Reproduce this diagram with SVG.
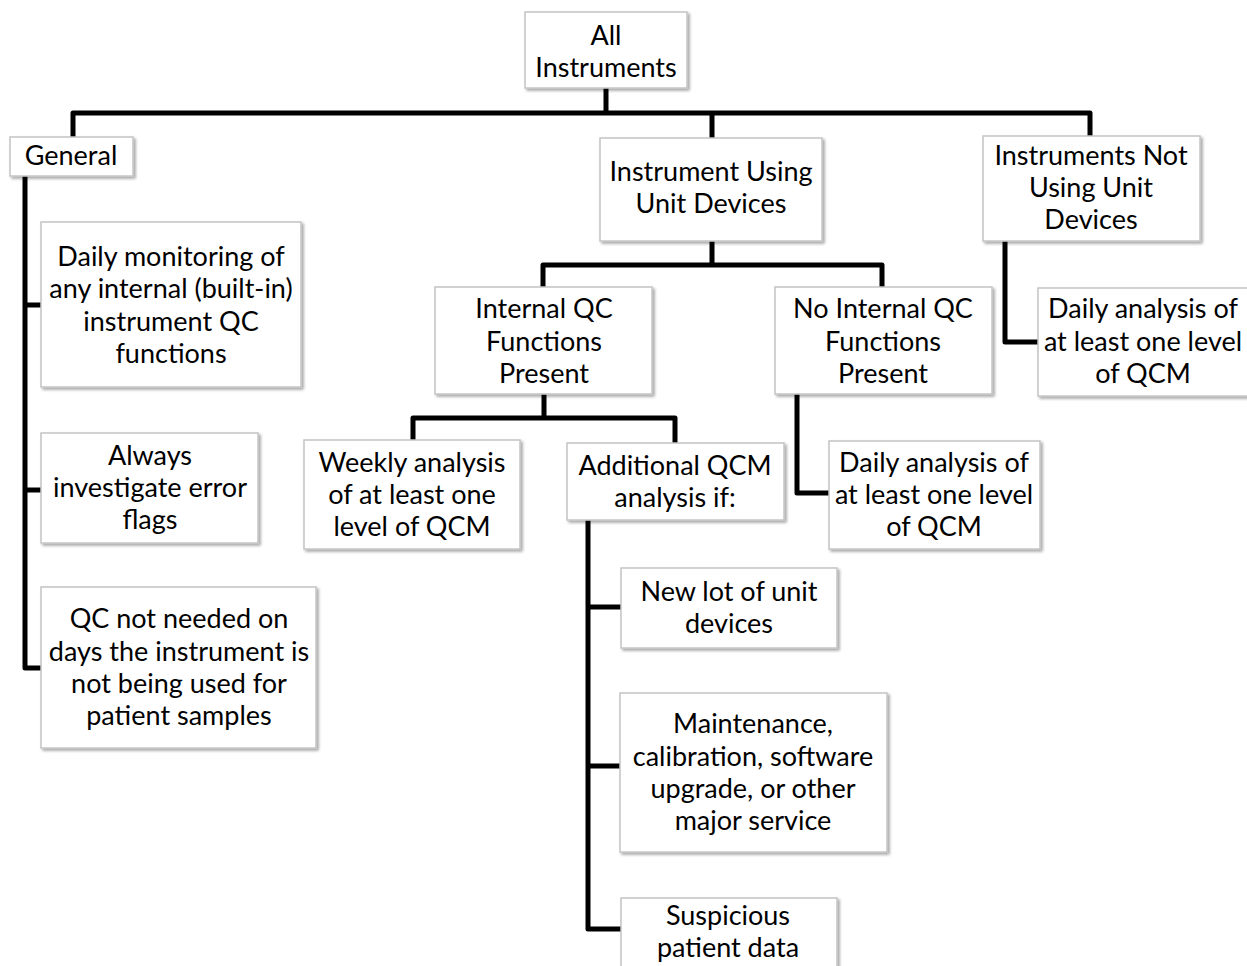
<svg xmlns="http://www.w3.org/2000/svg" width="1247" height="966" viewBox="0 0 1247 966">
<defs>
<filter id="sh" x="-10%" y="-10%" width="130%" height="130%">
<feGaussianBlur in="SourceAlpha" stdDeviation="1.5"/>
<feOffset dx="2" dy="2" result="b"/>
<feComponentTransfer><feFuncA type="linear" slope="0.35"/></feComponentTransfer>
<feMerge><feMergeNode/><feMergeNode in="SourceGraphic"/></feMerge>
</filter>
</defs>
<style>
.box{fill:#ffffff;stroke:#c4c4c4;stroke-width:1.5;filter:url(#sh)}
.t{font-family:Lato,"Open Sans","Noto Sans",sans-serif;font-size:27px;fill:#000;text-anchor:middle}
.c{fill:none;stroke:#000;stroke-width:5;stroke-linejoin:round}
</style>
<rect width="1247" height="966" fill="#ffffff"/>
<g id="connectors">
<path class="c" d="M606 88 V113 M73 137 V113 H1090 V136 M712 113 V138"/>
<path class="c" d="M25 176 V668 H41 M25 305 H41 M25 490 H41"/>
<path class="c" d="M712 241 V265 M543 287 V265 H882 V287"/>
<path class="c" d="M544 394 V418 M413 440 V418 H675 V443"/>
<path class="c" d="M588 520 V929 H621 M588 607 H621 M588 766 H620"/>
<path class="c" d="M797 394 V493 H829"/>
<path class="c" d="M1005 241 V342 H1038"/>
</g>
<g id="all"><rect class="box" x="525" y="12" width="162" height="76"/><text class="t" x="606" y="45">All</text><text class="t" x="606" y="77">Instruments</text></g>
<g id="general"><rect class="box" x="10" y="137" width="123" height="39"/><text class="t" x="71" y="165">General</text></g>
<g id="using"><rect class="box" x="600" y="138" width="222" height="103"/><text class="t" x="711" y="181">Instrument Using</text><text class="t" x="711" y="213">Unit Devices</text></g>
<g id="notusing"><rect class="box" x="983" y="136" width="217" height="105"/><text class="t" x="1091" y="165">Instruments Not</text><text class="t" x="1091" y="197">Using Unit</text><text class="t" x="1091" y="229">Devices</text></g>
<g id="daily-monitoring"><rect class="box" x="41" y="222" width="260" height="165"/><text class="t" x="171" y="266">Daily monitoring of</text><text class="t" x="171" y="298">any internal (built-in)</text><text class="t" x="171" y="331">instrument QC</text><text class="t" x="171" y="363">functions</text></g>
<g id="always"><rect class="box" x="41" y="433" width="217" height="110"/><text class="t" x="150" y="465">Always</text><text class="t" x="150" y="497">investigate error</text><text class="t" x="150" y="529">flags</text></g>
<g id="qc-not-needed"><rect class="box" x="41" y="587" width="275" height="161"/><text class="t" x="179" y="628">QC not needed on</text><text class="t" x="179" y="661">days the instrument is</text><text class="t" x="179" y="693">not being used for</text><text class="t" x="179" y="725">patient samples</text></g>
<g id="internal"><rect class="box" x="435" y="287" width="217" height="107"/><text class="t" x="544" y="318">Internal QC</text><text class="t" x="544" y="351">Functions</text><text class="t" x="544" y="383">Present</text></g>
<g id="nointernal"><rect class="box" x="775" y="287" width="217" height="107"/><text class="t" x="883" y="318">No Internal QC</text><text class="t" x="883" y="351">Functions</text><text class="t" x="883" y="383">Present</text></g>
<g id="daily-right"><rect class="box" x="1038" y="288" width="215" height="108"/><text class="t" x="1143" y="318">Daily analysis of</text><text class="t" x="1143" y="351">at least one level</text><text class="t" x="1143" y="383">of QCM</text></g>
<g id="weekly"><rect class="box" x="304" y="440" width="216" height="109"/><text class="t" x="412" y="472">Weekly analysis</text><text class="t" x="412" y="504">of at least one</text><text class="t" x="412" y="536">level of QCM</text></g>
<g id="additional"><rect class="box" x="567" y="443" width="217" height="77"/><text class="t" x="675" y="475">Additional QCM</text><text class="t" x="675" y="507">analysis if:</text></g>
<g id="daily-mid"><rect class="box" x="829" y="441" width="211" height="108"/><text class="t" x="934" y="472">Daily analysis of</text><text class="t" x="934" y="504">at least one level</text><text class="t" x="934" y="536">of QCM</text></g>
<g id="newlot"><rect class="box" x="621" y="568" width="216" height="80"/><text class="t" x="729" y="601">New lot of unit</text><text class="t" x="729" y="633">devices</text></g>
<g id="maintenance"><rect class="box" x="620" y="693" width="267" height="159"/><text class="t" x="753" y="733">Maintenance,</text><text class="t" x="753" y="766">calibration, software</text><text class="t" x="753" y="798">upgrade, or other</text><text class="t" x="753" y="830">major service</text></g>
<g id="suspicious"><rect class="box" x="621" y="898" width="216" height="75"/><text class="t" x="728" y="925">Suspicious</text><text class="t" x="728" y="957">patient data</text></g>
</svg>
